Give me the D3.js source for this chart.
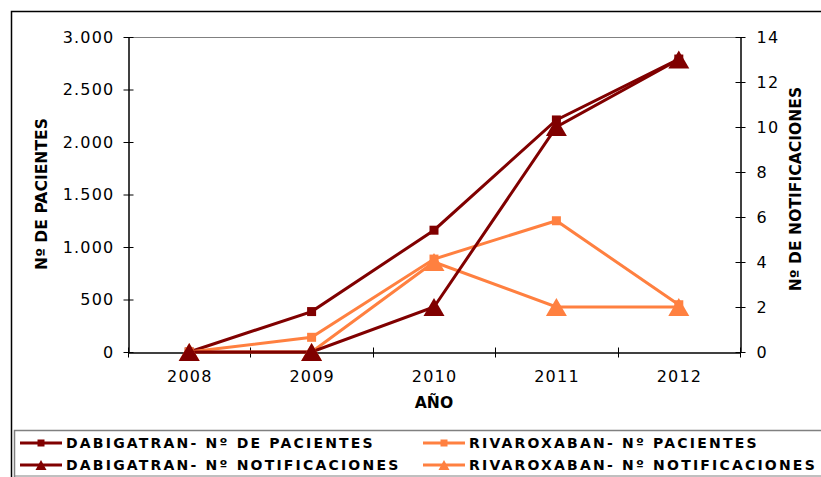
<!DOCTYPE html>
<html>
<head>
<meta charset="utf-8">
<script src="https://cdn.jsdelivr.net/npm/d3@7"></script>
<style>
  body { margin: 0; background: #fff; }
  svg text { font-family: "DejaVu Sans", Verdana, sans-serif; }
</style>
</head>
<body>
<svg id="chart" width="821" height="477"></svg>
<script>
// chart data
const years = ["2008", "2009", "2010", "2011", "2012"];
const dabiPacientes = [0, 385, 1160, 2210, 2790];
const dabiNotif = [0, 0, 2, 10, 13];
const rivaPacientes = [0, 140, 885, 1250, 450];
const rivaNotif = [0, 0, 4, 2, 2];
const leftTicks = [0, 500, 1000, 1500, 2000, 2500, 3000];
const rightTicks = [0, 2, 4, 6, 8, 10, 12, 14];

const DARK = "#800000", ORANGE = "#ff8040";

let svg = d3.select("#chart");
let m = {left: 128, right: 740, top: 37, bottom: 352};

let x = d3.scaleBand().domain(years).range([m.left, m.right]);
let yL = d3.scaleLinear().domain([0, 3000]).range([m.bottom, m.top]);
let yR = d3.scaleLinear().domain([0, 14]).range([m.bottom, m.top]);

// outer frame
svg.append("path").attr("d", "M11.5,477 V11.5 H821")
  .attr("fill", "none").attr("stroke", "#000").attr("stroke-width", 1.5);

// plot area top border
svg.append("line").attr("x1", m.left).attr("x2", m.right)
  .attr("y1", m.top + 0.5).attr("y2", m.top + 0.5)
  .attr("stroke", "#808080").attr("stroke-width", 1);

let fmt = d => d3.format(",")(d).replace(/,/g, ".");

// left axis
let gL = svg.append("g").attr("transform", "translate(" + (m.left + 0.5) + ",0)")
  .call(d3.axisLeft(yL).tickValues(leftTicks).tickFormat(fmt).tickSizeInner(5).tickSizeOuter(0).tickPadding(10));
gL.selectAll(".tick line").attr("x2", 5).attr("x1", -5);

// right axis
let gR = svg.append("g").attr("transform", "translate(" + (m.right + 0.5) + ",0)")
  .call(d3.axisRight(yR).tickValues(rightTicks).tickSizeInner(5).tickSizeOuter(0).tickPadding(11));
gR.selectAll(".tick line").attr("x1", -5).attr("x2", 5);

// bottom axis, ticks sit between the categories
let gB = svg.append("g").attr("transform", "translate(0," + (m.bottom + 0.5) + ")")
  .call(d3.axisBottom(x).tickSize(0).tickPadding(18));
gB.selectAll(".tick line").remove();
let bounds = years.map(d => x(d)).concat([m.right]);
gB.selectAll(".sep").data(bounds).enter().append("line")
  .attr("x1", d => Math.round(d) + 0.5).attr("x2", d => Math.round(d) + 0.5)
  .attr("y1", -5).attr("y2", 5).attr("stroke", "#000");

[gL, gR, gB].forEach(g => {
  g.select(".domain").attr("stroke", "#000").attr("stroke-width", 1.5);
  g.selectAll(".tick line").attr("stroke", "#000");
  g.selectAll("text").attr("font-size", 16).attr("fill", "#000")
    .attr("font-family", "DejaVu Sans").style("letter-spacing", "1.2px");
});
gL.selectAll("text").attr("dx", 1);
gB.selectAll("text").attr("dx", 0.6);

// axis titles
svg.append("text").attr("transform", "translate(47,194) rotate(-90)")
  .attr("text-anchor", "middle").attr("font-weight", "bold").attr("font-size", 15.6)
  .text("Nº DE PACIENTES");
svg.append("text").attr("transform", "translate(801,189) rotate(-90)")
  .attr("text-anchor", "middle").attr("font-weight", "bold").attr("font-size", 15.6)
  .text("Nº DE NOTIFICACIONES");
svg.append("text").attr("x", 434).attr("y", 408)
  .attr("text-anchor", "middle").attr("font-weight", "bold").attr("font-size", 15.6)
  .text("AÑO");

let cx = d => x(d) + x.bandwidth() / 2;

let series = [
  {name: "DABIGATRAN- Nº DE PACIENTES", vals: dabiPacientes, y: yL, color: DARK, mark: "square"},
  {name: "DABIGATRAN- Nº NOTIFICACIONES", vals: dabiNotif, y: yR, color: DARK, mark: "triangle"},
  {name: "RIVAROXABAN- Nº PACIENTES", vals: rivaPacientes, y: yL, color: ORANGE, mark: "square"},
  {name: "RIVAROXABAN- Nº NOTIFICACIONES", vals: rivaNotif, y: yR, color: ORANGE, mark: "triangle"}
];

function marker(g, kind, color, big) {
  if (kind == "square") {
    let s = big ? 9 : 7;
    g.append("rect").attr("x", -s / 2).attr("y", -s / 2).attr("width", s).attr("height", s).attr("fill", color);
  } else {
    let w = big ? 10.5 : 5.5, h = big ? 9 : 5;
    g.append("path").attr("d", "M0," + (-h) + " L" + w + "," + h + " L" + (-w) + "," + h + "Z")
      .attr("fill", color);
  }
}

let drawOrder = [series[0], series[2], series[3], series[1]];
drawOrder.forEach(s => {
  let line = d3.line().x((d, i) => cx(years[i])).y(d => s.y(d));
  svg.append("path").datum(s.vals).attr("d", line)
    .attr("fill", "none").attr("stroke", s.color).attr("stroke-width", 3);
});
drawOrder.forEach(s => {
  s.vals.forEach((v, i) => {
    let g = svg.append("g").attr("transform", "translate(" + cx(years[i]) + "," + s.y(v) + ")");
    marker(g, s.mark, s.color, true);
  });
});

// legend
let lg = svg.append("g");
lg.append("path").attr("d", "M14.5,477 V430.5 H821").attr("fill", "none")
  .attr("stroke", "#808080").attr("stroke-width", 1.5);
lg.append("line").attr("x1", 14).attr("x2", 821).attr("y1", 476).attr("y2", 476)
  .attr("stroke", "#808080");
let pos = [[20, 443], [20, 465], [423, 443], [423, 465]];
series.forEach((s, i) => {
  let g = lg.append("g").attr("transform", "translate(" + pos[i][0] + "," + pos[i][1] + ")");
  g.append("line").attr("x1", 0).attr("x2", 42).attr("stroke", s.color).attr("stroke-width", 3);
  let mk = g.append("g").attr("transform", "translate(21,0)");
  marker(mk, s.mark, s.color, false);
  g.append("text").attr("x", 46).attr("y", 5).attr("font-weight", "bold")
    .attr("font-size", 14).style("letter-spacing", "2.2px").text(s.name);
});
</script>
</body>
</html>
